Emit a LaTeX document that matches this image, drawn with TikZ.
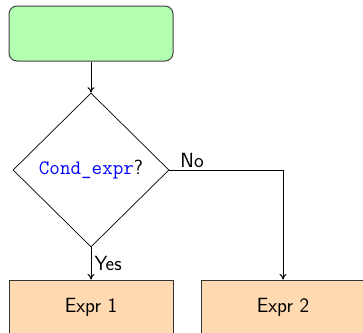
\documentclass[tikz,border=0pt]{standalone}
\usetikzlibrary{shapes.geometric,arrows.meta}
\begin{document}
\begin{tikzpicture}[x=1pt,y=-1pt,
  every node/.style={font=\fontsize{20.5}{24}\selectfont\sffamily},
  startbox/.style={draw=black!75,fill=green!30,rounded corners=8pt,line width=1pt,
    minimum width=164pt,minimum height=55pt,inner sep=0pt},
  exprbox/.style={draw=black!80,fill=orange!30,line width=1pt,
    minimum width=164pt,minimum height=55pt,inner sep=0pt},
  decision/.style={draw,diamond,line width=0.7pt,minimum width=156pt,minimum height=154pt,inner sep=0pt},
  flow/.style={line width=1pt,-{To[length=5.5pt,width=7pt]}}]
\useasboundingbox (0,0) rectangle (363,332);
% start block and condition
\node[startbox] (start) at (91,33.5) {};
\node[decision] (cond) at (91,170) {\textcolor{blue}{\ttfamily Cond\_expr}?};
% the two branches
\node[exprbox] (e1) at (91,307.5) {Expr 1};
\node[exprbox] (e2) at (283,307.5) {Expr 2};
\coordinate (turn) at (e2.north |- cond.east);
% connectors
\draw[flow] (start) -- (cond.north);
\draw[flow] (cond.south) -- node[right,inner sep=3pt] {Yes} (e1);
\draw[flow] (cond.east) -- node[pos=0.2,above,inner sep=2pt] {No} (turn) -- (e2);
\end{tikzpicture}
\end{document}
